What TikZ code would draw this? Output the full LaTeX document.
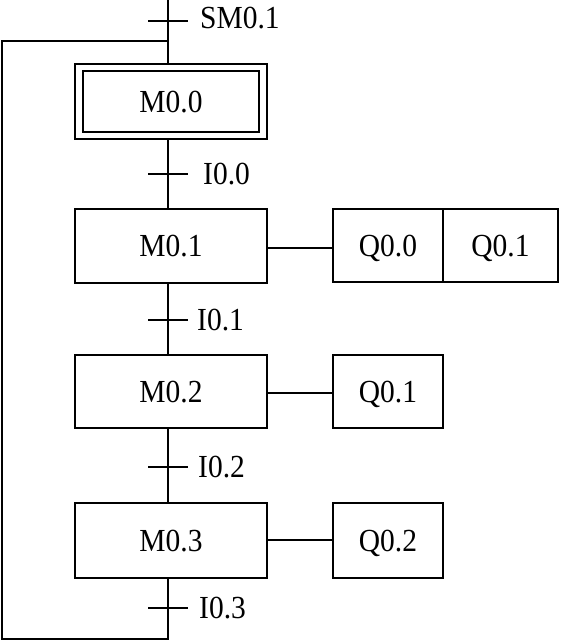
\documentclass[tikz,border=0pt]{standalone}
\usepackage{fontspec}
\setmainfont{Liberation Serif}
\usetikzlibrary{calc}
\newcommand\tallt[1]{\scalebox{1}[1.09]{#1}}
\begin{document}
\begin{tikzpicture}[x=1pt,y=-1pt,
  box/.style={draw,line width=2.8pt,outer sep=0pt,minimum height=74pt,inner sep=0pt,text depth=0pt,font=\fontsize{29.5}{34}\selectfont},
  stepbox/.style={box,minimum width=192pt},
  actbox/.style={box,minimum width=110pt},
  wire/.style={line width=1.9pt},
  lbl/.style={anchor=west,inner sep=0pt,text depth=0pt,font=\fontsize{29.5}{34}\selectfont}]
\useasboundingbox (0,0) rectangle (562,641);
% steps
\node[stepbox,minimum height=75pt] (m00) at (171,101.5) {\tallt{M0.0}};
\draw[line width=2.8pt] ($(m00.north west)+(8pt,-7pt)$) rectangle ($(m00.south east)+(-8pt,7pt)$);
\node[stepbox] (m01) at (171,246) {\tallt{M0.1}};
\node[stepbox,minimum height=73pt] (m02) at (171,391.5) {\tallt{M0.2}};
\node[stepbox,minimum height=75pt] (m03) at (171,540.5) {\tallt{M0.3}};
% actions
\node[actbox,minimum height=73pt] (q00) at (388,245.5) {\tallt{Q0.0}};
\node[actbox,draw=none,minimum width=115pt,minimum height=73pt] (q01) at (500.5,245.5) {\tallt{Q0.1}};
\draw[line width=2.8pt,line join=miter] (q00.north east) -- (q01.north east) -- (q01.south east) -- (q00.south east);
\node[actbox,minimum height=73pt] (q1) at (388,391.5) {\tallt{Q0.1}};
\node[actbox,minimum height=75pt] (q2) at (388,540.5) {\tallt{Q0.2}};
% coordinates on main line
\coordinate (top) at (168,0);
\coordinate (t0) at (168,21);
\coordinate (j) at (168,41);
\coordinate (t1) at (168,174);
\coordinate (t2) at (168,320);
\coordinate (t3) at (168,467);
\coordinate (t4) at (168,608);
\coordinate (bl) at (2,639);
\coordinate (tl) at (2,41);
\coordinate (br) at (168,639);
% main line
\draw[wire] (top) -- (top |- m00.north);
\draw[wire] (top |- m00.south) -- (top |- m01.north);
\draw[wire] (top |- m01.south) -- (top |- m02.north);
\draw[wire] (top |- m02.south) -- (top |- m03.north);
\draw[wire,line join=miter] (top |- m03.south) -- (br) -- (bl) -- (tl) -- (j);
% action links
\draw[wire] (m01.east |- 0,248) -- (q00.west |- 0,248);
\draw[wire] (m02.east |- 0,393) -- (q1.west |- 0,393);
\draw[wire] (m03.east |- 0,540) -- (q2.west |- 0,540);
% transitions
\foreach \t in {t0,t1,t2,t3,t4} \draw[wire] ($(\t)+(-20pt,0)$) -- ($(\t)+(20pt,0)$);
\node[lbl] (l0) at ($(t0)+(32pt,3pt)$) {\tallt{SM0.1}};
\node[lbl] (l1) at ($(t1)+(35pt,0)$) {\tallt{I0.0}};
\node[lbl] (l2) at ($(t2)+(29pt,0)$) {\tallt{I0.1}};
\node[lbl] (l3) at ($(t3)+(30pt,0)$) {\tallt{I0.2}};
\node[lbl] (l4) at ($(t4)+(31pt,0)$) {\tallt{I0.3}};
\end{tikzpicture}
\end{document}
